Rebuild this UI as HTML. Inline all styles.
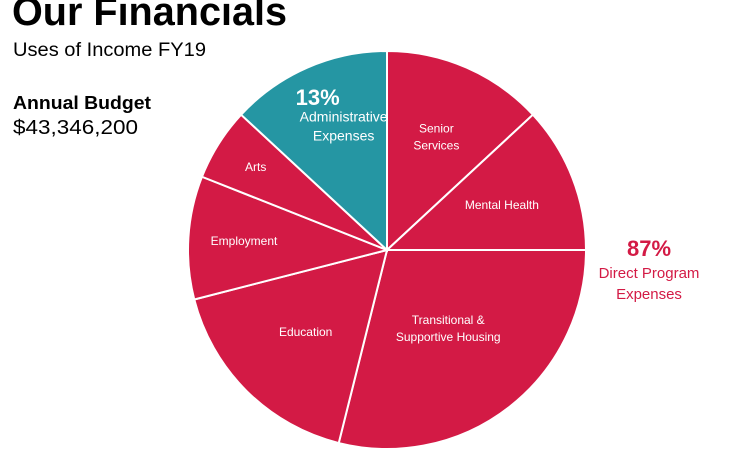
<!DOCTYPE html>
<html><head><meta charset="utf-8"><style>
html,body{margin:0;padding:0;background:#fff;width:734px;height:449px;overflow:hidden}
svg text{font-family:"Liberation Sans",sans-serif}
</style></head><body>
<svg id="chart" width="734" height="449" viewBox="0 0 734 449" xmlns="http://www.w3.org/2000/svg">
<text x="12" y="25" font-size="40" font-weight="bold" textLength="275" lengthAdjust="spacingAndGlyphs">Our Financials</text>
<text x="13" y="56" font-size="19" textLength="193" lengthAdjust="spacingAndGlyphs">Uses of Income FY19</text>
<text x="13" y="109" font-size="18" font-weight="bold" textLength="138" lengthAdjust="spacingAndGlyphs">Annual Budget</text>
<text x="13" y="134" font-size="20" textLength="125" lengthAdjust="spacingAndGlyphs">$43,346,200</text>
<g id="slices"></g>
<g id="labels"></g>
<text x="649" y="256" font-size="22" font-weight="bold" fill="#d31a45" text-anchor="middle">87%</text>
<text x="649" y="278" font-size="15" fill="#d31a45" text-anchor="middle">Direct Program</text>
<text x="649" y="299" font-size="15" fill="#d31a45" text-anchor="middle">Expenses</text>
</svg>
<script>
const categories = ["Senior Services","Mental Health","Transitional & Supportive Housing","Education","Employment","Arts","Administrative Expenses"];
const values = [13.1, 11.9, 28.9, 17.1, 10.0, 5.9, 13.1];
const colors = ["#d31a45","#d31a45","#d31a45","#d31a45","#d31a45","#d31a45","#2596a3"];
const labelLines = [["Senior","Services"],["Mental Health"],["Transitional &","Supportive Housing"],["Education"],["Employment"],["Arts"],["Administrative","Expenses"]];
const cx=387, cy=250, r=199;
const NS="http://www.w3.org/2000/svg";
const total = values.reduce((a,b)=>a+b,0);
const angle = v => v/total*2*Math.PI;
const pt = (a,rr) => [cx+rr*Math.sin(a), cy-rr*Math.cos(a)];
const gs=document.getElementById('slices'), gl=document.getElementById('labels');
const labelR=[0.62,0.62,0.5,0.58,0.72,0.78,0.62];
let a0=0;
values.forEach((v,i)=>{
  const a1=a0+angle(v);
  const [x0,y0]=pt(a0,r),[x1,y1]=pt(a1,r);
  const p=document.createElementNS(NS,'path');
  p.setAttribute('d',`M${cx},${cy}L${x0},${y0}A${r},${r} 0 ${a1-a0>Math.PI?1:0} 1 ${x1},${y1}Z`);
  p.setAttribute('fill',colors[i]);p.setAttribute('stroke','#fff');p.setAttribute('stroke-width','2');
  
  
  gs.appendChild(p);
  const [lx,ly]=pt((a0+a1)/2,r*labelR[i]);
  const lines=labelLines[i];
  const isAdmin=i===6;
  if(isAdmin){
    const t=document.createElementNS(NS,'text');
    t.setAttribute('x',lx-20);t.setAttribute('y',ly-32);t.setAttribute('font-size','22');t.setAttribute('font-weight','bold');t.setAttribute('fill','#fff');t.setAttribute('text-anchor','middle');
    t.textContent=Math.round(v)+'%';
    
    
    gl.appendChild(t);
  }
  lines.forEach((s,j)=>{
    const t=document.createElementNS(NS,'text');
    const lh=isAdmin?19:17;
    t.setAttribute('x',isAdmin?lx+6:lx);
    t.setAttribute('y',ly+(j-(lines.length-1)/2)*lh+(isAdmin?-6:4));
    t.setAttribute('font-size',isAdmin?'14':'12');
    t.setAttribute('fill','#fff');t.setAttribute('text-anchor','middle');
    t.textContent=s;
    
    
    gl.appendChild(t);
  });
  a0=a1;
});
</script>
</body></html>
